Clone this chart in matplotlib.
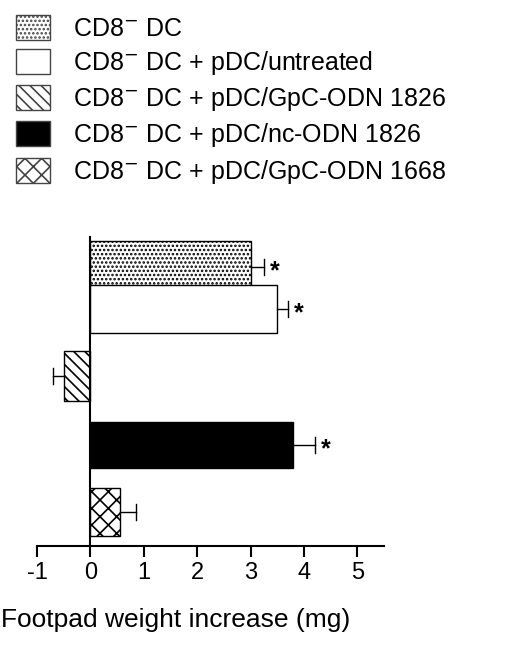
import matplotlib
matplotlib.use("Agg")
import matplotlib.pyplot as plt
from matplotlib.patches import Patch

plt.rcParams['font.family'] = ['Liberation Sans', 'DejaVu Sans']
plt.rcParams['hatch.linewidth'] = 1.2
plt.rcParams['axes.unicode_minus'] = False

labels = ["CD8$^{-}$ DC", "CD8$^{-}$ DC + pDC/untreated", "CD8$^{-}$ DC + pDC/GpC-ODN 1826",
          "CD8$^{-}$ DC + pDC/nc-ODN 1826", "CD8$^{-}$ DC + pDC/GpC-ODN 1668"]
values = [3.0, 3.5, -0.5, 3.8, 0.55]
errors = [0.25, 0.2, 0.2, 0.4, 0.3]
signif = [True, True, False, True, False]

ypos = [267, 309, 376, 445, 512]
heights = [52, 48, 50, 46, 48]
faces = ['white', 'white', 'white', 'black', 'white']
hatches = ['....', None, '\\\\\\', None, 'xx']

fig = plt.figure(figsize=(5.2, 6.46), dpi=100)
ax = fig.add_axes([37/520, 100/646, 347/520, 309/646])
for i in range(5):
    ax.barh(ypos[i], values[i], height=heights[i], color=faces[i], hatch=hatches[i],
            edgecolor='black', linewidth=1)
    x = values[i]
    xe = x + errors[i] if x >= 0 else x - errors[i]
    ax.plot([x, xe], [ypos[i], ypos[i]], color='black', lw=1)
    ax.plot([xe, xe], [ypos[i]-8, ypos[i]+8], color='black', lw=1)
    if signif[i]:
        ax.text(xe + 0.12, ypos[i] + 4, '*', fontsize=18, ha='left', va='center', fontweight='bold')
ax.set_xlim(-1, 5.5)
ax.set_ylim(546, 237)
ax.spines['top'].set_visible(False)
ax.spines['right'].set_visible(False)
ax.spines['left'].set_position(('data', 0))
ax.spines['bottom'].set_linewidth(1.5)
ax.spines['left'].set_linewidth(1.5)
ax.spines['bottom'].set_bounds(-1, 5.5)
ax.set_yticks([])
ax.set_xticks(range(-1, 6))
ax.tick_params(axis='x', labelsize=17, width=1.5, length=8)
ax.set_xlabel('Footpad weight increase (mg)', fontsize=19)
ax.xaxis.set_label_coords(-0.105, -0.2)
ax.xaxis.label.set_ha('left')

handles = [Patch(facecolor=faces[i], hatch=hatches[i], edgecolor='#444444') for i in range(5)]
fig.legend(handles, labels, loc='upper left', bbox_to_anchor=(-0.012, 1.012), frameon=False,
           fontsize=18, handlelength=1.35, handleheight=1.15, labelspacing=0.33, handletextpad=0.9)
fig.savefig('out.png', dpi=100)
